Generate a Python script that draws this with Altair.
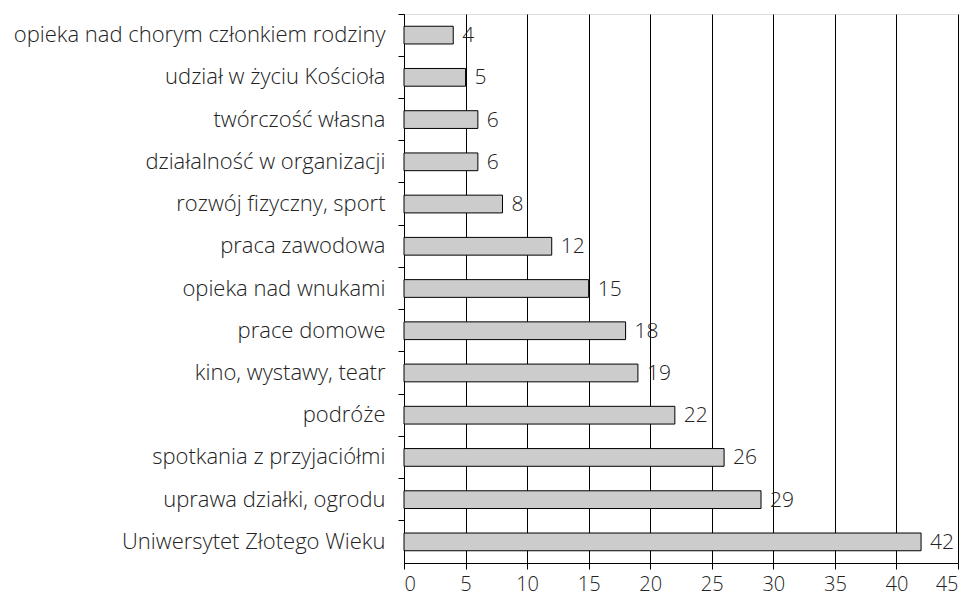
import altair as alt
import pandas as pd

categories = [
    "opieka nad chorym członkiem rodziny",
    "udział w życiu Kościoła",
    "twórczość własna",
    "działalność w organizacji",
    "rozwój fizyczny, sport",
    "praca zawodowa",
    "opieka nad wnukami",
    "prace domowe",
    "kino, wystawy, teatr",
    "podróże",
    "spotkania z przyjaciółmi",
    "uprawa działki, ogrodu",
    "Uniwersytet Złotego Wieku",
]
values = [4, 5, 6, 6, 8, 12, 15, 18, 19, 22, 26, 29, 42]
x_ticks = list(range(0, 50, 5))

df = pd.DataFrame({"cat": categories, "val": values})

FONT = "Open Sans"
FS_Y = 22
FS = 20

y_enc = alt.Y(
    "cat:N",
    sort=categories,
    title=None,
    scale=alt.Scale(paddingInner=0, paddingOuter=0),
    axis=alt.Axis(
        bandPosition=0,
        ticks=True,
        tickSize=6,
        tickColor="black",
        domainColor="black",
        labelFontSize=FS_Y,
        labelFont=FONT,
        labelFontWeight=300,
        labelColor="#222222",
        labelPadding=13,
        labelLimit=500,
        grid=False,
    ),
)

x_enc = alt.X(
    "val:Q",
    title=None,
    scale=alt.Scale(domain=[0, 45], nice=False),
    axis=alt.Axis(
        values=x_ticks,
        grid=True,
        gridColor="black",
        gridOpacity=1,
        gridWidth=1,
        tickSize=6,
        tickColor="black",
        domainColor="black",
        labelFontSize=FS,
        labelFont=FONT,
        labelFontWeight=300,
        labelColor="#222222",
        labelPadding=5,
    ),
)

bars = alt.Chart(df).mark_bar(
    fill="#cccccc",
    stroke="black",
    strokeWidth=1,
    height=alt.RelativeBandSize(0.42),
).encode(x=x_enc, y=y_enc)

labels = alt.Chart(df).mark_text(
    align="left",
    baseline="middle",
    dx=9,
    dy=1,
    fontSize=21,
    font=FONT,
    fontWeight=300,
    color="#222222",
).encode(x="val:Q", y=alt.Y("cat:N", sort=categories), text="val:Q")

chart = (
    (bars + labels)
    .properties(width=554, height=549)
    .configure_view(stroke=None)
    .configure(background="white")
)

chart.save("out.html", embed_options={"renderer": "svg", "actions": False})
